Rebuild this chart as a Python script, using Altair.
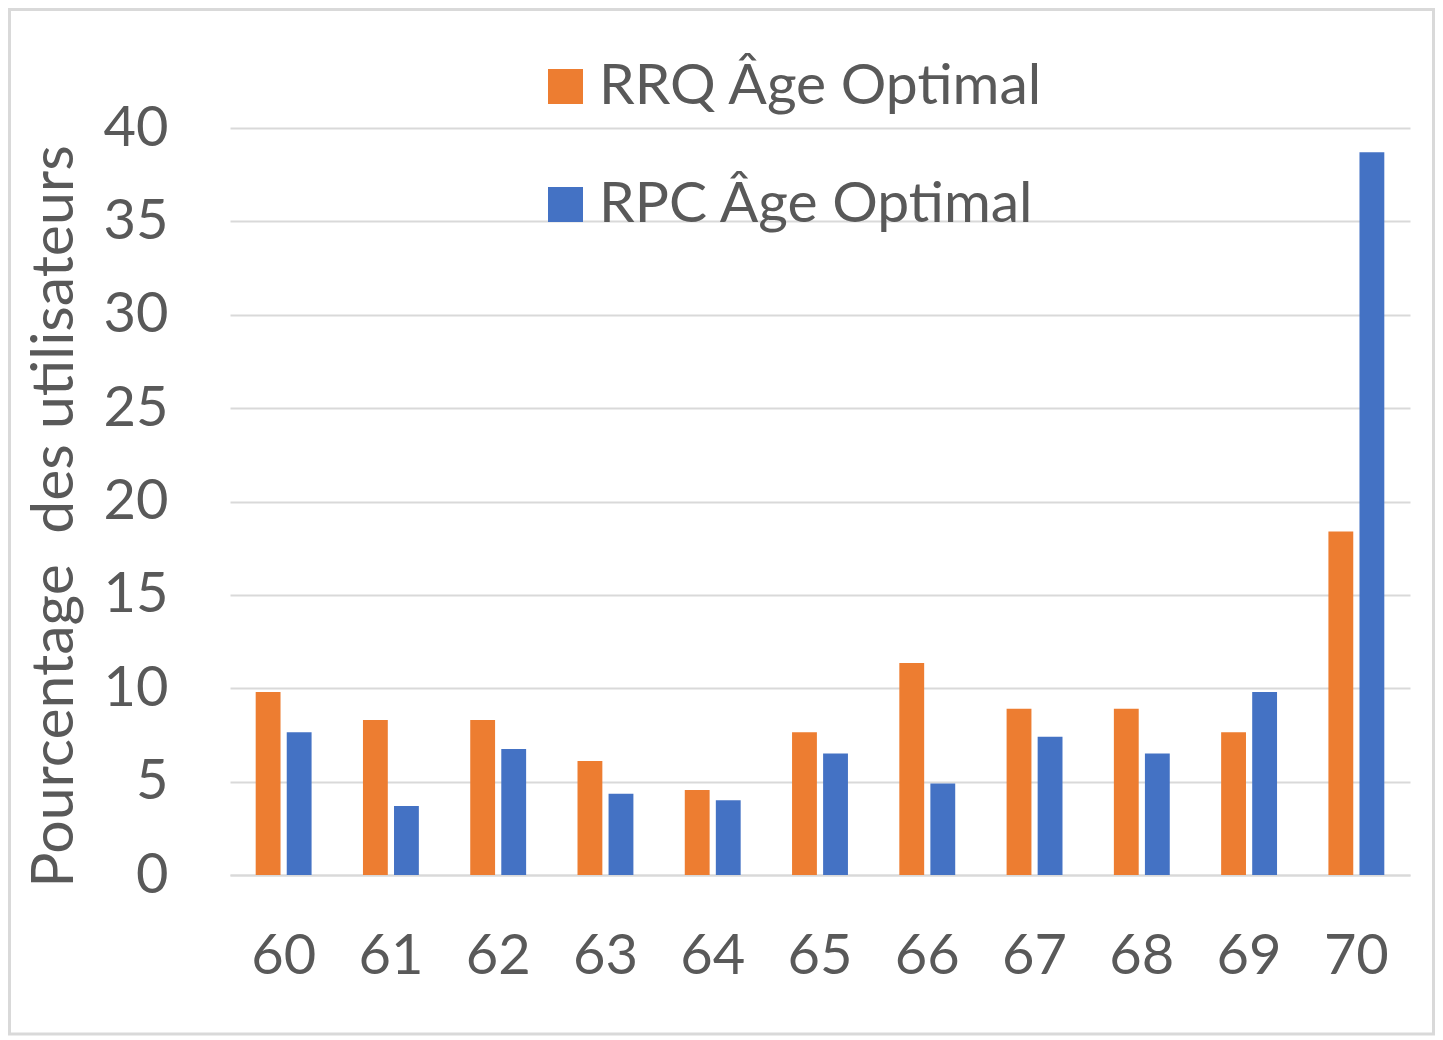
import altair as alt
import pandas as pd

ages = ["60", "61", "62", "63", "64", "65", "66", "67", "68", "69", "70"]
rrq = [9.8, 8.3, 8.3, 6.1, 4.55, 7.65, 11.35, 8.9, 8.9, 7.65, 18.4]
rpc = [7.65, 3.7, 6.75, 4.35, 4.0, 6.5, 4.9, 7.4, 6.5, 9.8, 38.7]
series_names = ["RRQ Âge Optimal", "RPC Âge Optimal"]
colors = ["#ED7D31", "#4472C4"]
y_ticks = [0, 5, 10, 15, 20, 25, 30, 35, 40]

rows = []
for a, v1, v2 in zip(ages, rrq, rpc):
    rows.append({"age": a, "serie": series_names[0], "val": v1})
    rows.append({"age": a, "serie": series_names[1], "val": v2})
df = pd.DataFrame(rows)

FONT = "Lato"
TXT = "#595959"
GRID = "#D9D9D9"

bars = alt.Chart(df).mark_bar().encode(
    x=alt.X("age:N", sort=ages,
            scale=alt.Scale(paddingInner=0.45, paddingOuter=0.225),
            axis=alt.Axis(title=None, labelFontSize=56, labelFont=FONT, labelColor=TXT,
                          labelAngle=0, labelPadding=54, ticks=False,
                          domainColor=GRID, domainWidth=2, grid=False)),
    xOffset=alt.XOffset("serie:N", sort=series_names,
                        scale=alt.Scale(paddingInner=0.2, paddingOuter=0.05)),
    y=alt.Y("val:Q", scale=alt.Scale(domain=[0, 40], nice=False),
            axis=alt.Axis(values=y_ticks, title="Pourcentage\u00a0\u00a0des utilisateurs",
                          titleFont=FONT, titleFontSize=59, titleFontWeight="normal",
                          titleColor=TXT, titleAngle=-90, titleX=-158, titleY=388,
                          titleBaseline="alphabetic", titleAlign="center",
                          labelFontSize=56, labelFont=FONT, labelColor=TXT,
                          labelPadding=62, ticks=False, domain=False,
                          grid=True, gridColor=GRID, gridWidth=2)),
    color=alt.Color("serie:N", sort=series_names,
                    scale=alt.Scale(domain=series_names, range=colors),
                    legend=alt.Legend(title=None, orient="none", legendX=307, legendY=-70,
                                      symbolType="square", symbolSize=1225,
                                      symbolStrokeWidth=0, labelFont=FONT,
                                      labelFontSize=57, labelColor=TXT, labelLimit=900,
                                      labelOffset=5, rowPadding=60)),
)

border = alt.Chart(pd.DataFrame({"k": [0]})).mark_rect(
    fillOpacity=0, stroke=GRID, strokeWidth=3
).encode(
    x=alt.value(-220.5), x2=alt.value(1203.5),
    y=alt.value(-118.5), y2=alt.value(906),
)

chart = alt.layer(bars, border).properties(
    width=1180, height=747,
    background="white",
    autosize=alt.AutoSizeParams(type="none"),
    padding={"left": 222, "top": 120, "right": 25, "bottom": 161},
).configure_view(strokeWidth=0, stroke="transparent")

chart.save("out.html", embed_options={"renderer": "svg", "actions": False})
